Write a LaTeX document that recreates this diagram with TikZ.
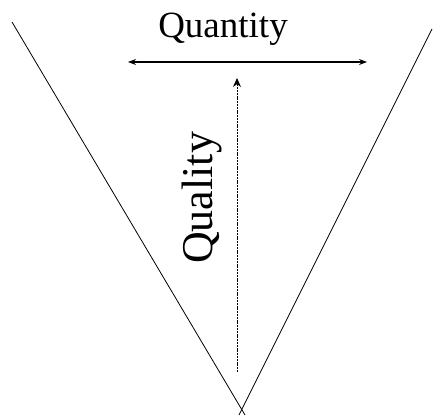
\documentclass[tikz,border=0pt]{standalone}
\usepackage{fontspec}
\setmainfont{Liberation Serif}
\usetikzlibrary{positioning, arrows.meta}

\begin{document}
\begin{tikzpicture}[
		x=1pt, y=-1pt,
		funnel/.style={draw=black, line width=0.8pt},
		axis/.style={draw=black, line width=1.2pt, {Stealth[length=8pt,width=6pt]}-{Stealth[length=8pt,width=6pt]}},
		upaxis/.style={draw=black, line width=0.8pt, dash pattern=on 2pt off 0.8pt, -{Stealth[length=9pt,width=8pt]}},
		label/.style={inner sep=0pt}
		]
		\useasboundingbox (0,0) rectangle (433,415);
		
		% Funnel
		\coordinate (lefttop) at (12,22);
		\coordinate (leftend) at (245,415);
		\coordinate (righttop) at (432,29);
		\coordinate (rightend) at (239,415);
		\draw[funnel] (lefttop) -- (leftend);
		\draw[funnel] (righttop) -- (rightend);
		
		% Quantity
		\coordinate (qtyL) at (128,62);
		\coordinate (qtyR) at (367,62);
		\draw[axis] (qtyL) -- (qtyR);
		\node[label, anchor=base, font=\fontsize{37}{42}\selectfont] (qty) at (223,37) {Quantity};
		
		% Quality
		\coordinate (qlyB) at (237,372);
		\coordinate (qlyT) at (237,78);
		\draw[upaxis] (qlyB) -- (qlyT);
		\node[label, rotate=90, font=\fontsize{44}{50}\selectfont] (qly) at (202,198) {Quality};
		
	\end{tikzpicture}
\end{document}
